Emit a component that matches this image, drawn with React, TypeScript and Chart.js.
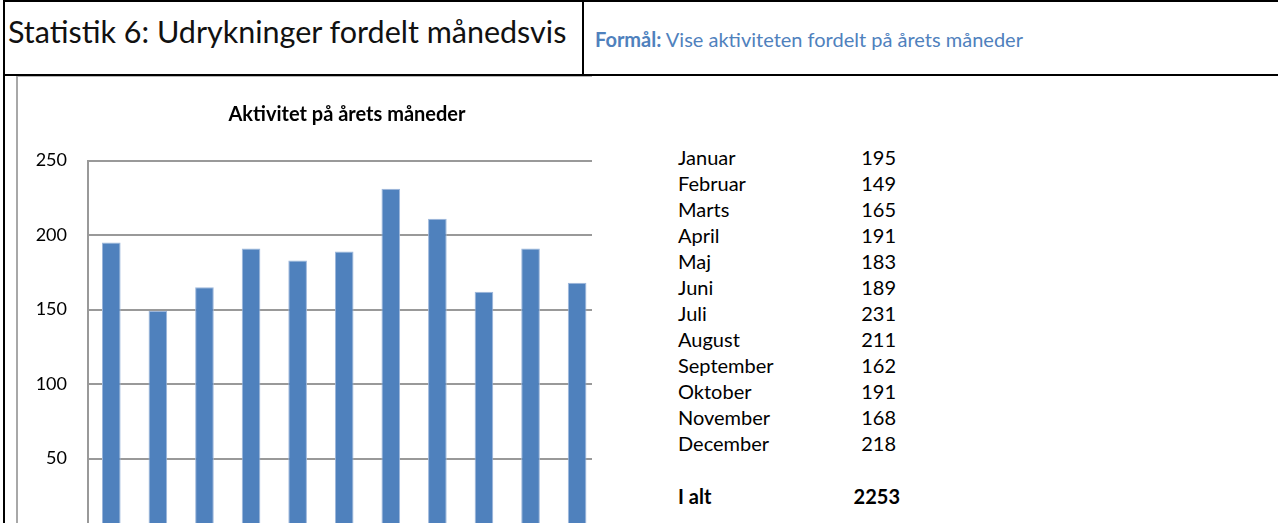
import React, { useEffect, useRef } from "react";
import { Chart, registerables } from "chart.js";

Chart.register(...registerables);

const headerTitle = "Statistik 6: Udrykninger fordelt månedsvis";
const purposeLabel = "Formål:";
const purposeText = "Vise aktiviteten fordelt på årets måneder";
const chartTitle = "Aktivitet på årets måneder";

const monthLabels = ["Januar", "Februar", "Marts", "April", "Maj", "Juni", "Juli", "August", "September", "Oktober", "November", "December"];
const monthValues = [195, 149, 165, 191, 183, 189, 231, 211, 162, 191, 168, 218];
const totalLabel = "I alt";
const totalValue = 2253;
const yMin = 0;
const yMax = 250;
const yStep = 50;

const FONT = "Lato";

function BarChart() {
  const ref = useRef<HTMLCanvasElement | null>(null);
  useEffect(() => {
    if (!ref.current) return;
    const chart = new Chart(ref.current, {
      type: "bar",
      data: {
        labels: monthLabels,
        datasets: [
          {
            data: monthValues,
            backgroundColor: "#4f81bd",
            borderColor: "#9db7dc",
            borderWidth: 1,
            categoryPercentage: 1,
            barPercentage: 0.4,
          },
        ],
      },
      options: {
        animation: false,
        responsive: false,
        maintainAspectRatio: false,
        layout: { padding: 0 },
        plugins: {
          legend: { display: false },
          tooltip: { enabled: false },
          title: {
            display: true,
            text: chartTitle,
            color: "#000",
            font: { family: FONT, size: 20, weight: "bold", lineHeight: 1.2 },
            padding: { top: 25, bottom: 33.5 },
          },
        },
        scales: {
          x: { display: false },
          y: {
            min: yMin,
            max: yMax,
            afterFit: (s: any) => {
              s.width = 70;
            },
            ticks: {
              stepSize: yStep,
              color: "#000",
              padding: 21,
              font: { family: FONT, size: 18 },
            },
            grid: { color: "#999999", lineWidth: 2, drawTicks: false },
            border: { color: "#999999", width: 2 },
          },
          yRight: {
            position: "right",
            display: true,
            afterFit: (s: any) => {
              s.width = 29;
            },
            ticks: { display: false },
            grid: { display: false, drawTicks: false },
            border: { display: false },
          },
        },
      },
    });
    return () => chart.destroy();
  }, []);
  return <canvas ref={ref} width={658} height={487} style={{ width: 658, height: 487, display: "block" }} />;
}

export default function App() {
  const rowBase0 = 165;
  const rowH = 26;
  const tableFont = 20;
  return (
    <div style={{ position: "absolute", left: 0, top: 0, width: 1278, height: 523, overflow: "hidden", background: "#fff", fontFamily: FONT }}>
      {/* table borders */}
      <div style={{ position: "absolute", left: 3, top: 0, width: 1275, height: 2, background: "#000" }} />
      <div style={{ position: "absolute", left: 3, top: 0, width: 2, height: 523, background: "#000" }} />
      <div style={{ position: "absolute", left: 3, top: 74, width: 1275, height: 2, background: "#000" }} />
      <div style={{ position: "absolute", left: 582, top: 0, width: 2, height: 76, background: "#000" }} />
      {/* chart frame */}
      <div style={{ position: "absolute", left: 17, top: 76, width: 575, height: 1, background: "#b5b5b5" }} />
      <div style={{ position: "absolute", left: 16, top: 76, width: 2, height: 447, background: "#a8a8a8" }} />
      {/* header texts */}
      <div style={{ position: "absolute", left: 8, top: 13, fontSize: 30.5, lineHeight: 1.2, color: "#111", whiteSpace: "nowrap" }}>{headerTitle}</div>
      <div style={{ position: "absolute", left: 595, top: 27, fontSize: 20, lineHeight: 1.2, color: "#4f81bd", whiteSpace: "nowrap" }}>
        <b>{purposeLabel}</b> {purposeText}
      </div>
      {/* chart */}
      <div style={{ position: "absolute", left: 18, top: 78, width: 574, height: 445, overflow: "hidden" }}>
        <BarChart />
      </div>
      {/* value table */}
      {monthLabels.map((m, i) => (
        <div key={m} style={{ position: "absolute", left: 678, top: rowBase0 + i * rowH - 0.987 * tableFont, width: 218, fontSize: tableFont, lineHeight: 1.2, color: "#000", whiteSpace: "nowrap" }}>
          <span>{m}</span>
          <span style={{ position: "absolute", right: 0 }}>{monthValues[i]}</span>
        </div>
      ))}
      <div style={{ position: "absolute", left: 678, top: 504 - 0.987 * tableFont, width: 222, fontSize: tableFont, lineHeight: 1.2, fontWeight: "bold", color: "#000", whiteSpace: "nowrap" }}>
        <span>{totalLabel}</span>
        <span style={{ position: "absolute", right: 0 }}>{totalValue}</span>
      </div>
    </div>
  );
}
